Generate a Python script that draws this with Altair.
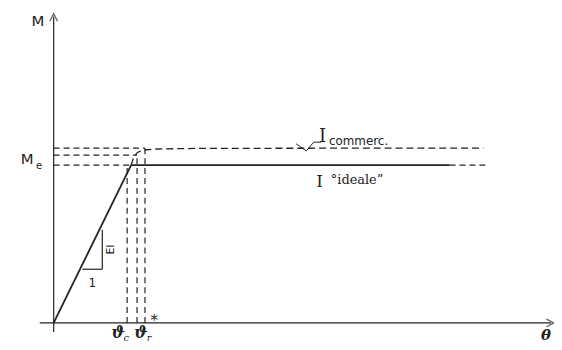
import altair as alt
import pandas as pd

# ---- data (theta in units of theta_c, M in units of Me) ----
theta_y = 1.054      # end of elastic branch
theta_c = 1.0
theta_r = 1.135
theta_rs = 1.243
Me = 1.0
M_mid = 1.063
M_top = 1.107
theta_plast_end = 5.39
theta_tail_end = 5.92

comm_theta = [1.054, 1.09, 1.14, 1.22, 1.4, 2.0, 4.0, 5.85]
comm_M = [1.0, 1.05, 1.08, 1.095, 1.102, 1.106, 1.107, 1.107]

# geometry of the frame
W, H = 550, 336
KX, KY = 74.0, 159.0
OX, OY = 46.0, 316.0
xdom = [-OX / KX, (W - OX) / KX]
ydom = [-(H - OY) / KY, OY / KY]
xs = alt.Scale(domain=xdom, nice=False, zero=False)
ys = alt.Scale(domain=ydom, nice=False, zero=False)
INK = "#222222"

solid = pd.DataFrame([
    # axes
    dict(x=-0.19, y=0, x2=6.77, y2=0, w=1.2),
    dict(x=0, y=-0.057, x2=0, y2=1.94, w=1.2),
    # elastic branch
    dict(x=0, y=0, x2=theta_y, y2=Me, w=1.8),
    # ideal plateau
    dict(x=theta_y, y=Me, x2=theta_plast_end, y2=Me, w=1.8),
    # slope triangle
    dict(x=0.392, y=0.34, x2=0.662, y2=0.34, w=1.2),
    dict(x=0.662, y=0.34, x2=0.662, y2=0.591, w=1.2),
])

dashed = pd.DataFrame([
    dict(x=0, y=Me, x2=theta_y, y2=Me),
    dict(x=0, y=M_mid, x2=theta_r, y2=M_mid),
    dict(x=0, y=M_top, x2=theta_rs, y2=M_top),
    dict(x=theta_c, y=0, x2=theta_c, y2=Me),
    dict(x=theta_r, y=0, x2=theta_r, y2=M_mid),
    dict(x=theta_rs, y=0, x2=theta_rs, y2=M_top),
    dict(x=theta_plast_end, y=Me, x2=theta_tail_end, y2=Me),
])

comm = pd.DataFrame({"x": comm_theta, "y": comm_M, "o": list(range(len(comm_theta)))})

pointer = pd.DataFrame({"x": [3.30, 3.44, 3.54, 3.64], "y": [1.135, 1.09, 1.145, 1.145],
                        "o": [0, 1, 2, 3]})

arrows = pd.DataFrame([
    dict(x=0, y=1.94, s="M-1,1.2L0,-0.8L1,1.2"),
    dict(x=6.77, y=0, s="M-1.2,-1L0.8,0L-1.2,1"),
])

sans_txt = pd.DataFrame([
    dict(x=-0.216, y=1.91, t="M", sz=15),
    dict(x=-0.36, y=1.04, t="M", sz=15),
    dict(x=-0.20, y=0.995, t="e", sz=10),
    dict(x=4.15, y=1.155, t="commerc.", sz=12),
    dict(x=0.527, y=0.25, t="1", sz=12),
])

serif_txt = pd.DataFrame([
    dict(x=3.66, y=1.175, t="I", sz=18),
    dict(x=3.62, y=0.895, t="I", sz=17),
    dict(x=4.13, y=0.905, t="°ideale”", sz=13),
])

greek = pd.DataFrame([
    dict(x=0.88, y=-0.065, t="ϑ", sz=16),
    dict(x=1.19, y=-0.065, t="ϑ", sz=16),
    dict(x=6.70, y=-0.075, t="θ", sz=15),
])
subs = pd.DataFrame([
    dict(x=0.99, y=-0.095, t="c", sz=10),
    dict(x=1.30, y=-0.095, t="r", sz=10),
    dict(x=1.37, y=0.02, t="*", sz=15),
])

ei = pd.DataFrame([dict(x=0.78, y=0.465, t="EI")])

l_solid = alt.Chart(solid).mark_rule(color=INK).encode(
    x=alt.X("x:Q", scale=xs, axis=None), y=alt.Y("y:Q", scale=ys, axis=None),
    x2="x2:Q", y2="y2:Q", strokeWidth=alt.StrokeWidth("w:Q", scale=None))

l_dash = alt.Chart(dashed).mark_rule(color=INK, strokeWidth=1.2, strokeDash=[6, 4]).encode(
    x=alt.X("x:Q", scale=xs, axis=None), y=alt.Y("y:Q", scale=ys, axis=None),
    x2="x2:Q", y2="y2:Q")

l_comm = alt.Chart(comm).mark_line(color=INK, strokeWidth=1.3, strokeDash=[7, 4]).encode(
    x=alt.X("x:Q", scale=xs, axis=None), y=alt.Y("y:Q", scale=ys, axis=None), order="o:O")

l_ptr = alt.Chart(pointer).mark_line(color=INK, strokeWidth=1.0).encode(
    x=alt.X("x:Q", scale=xs, axis=None), y=alt.Y("y:Q", scale=ys, axis=None), order="o:O")

l_arrow = alt.Chart(arrows).mark_point(filled=False, color=INK, strokeWidth=1.3, size=60).encode(
    x=alt.X("x:Q", scale=xs, axis=None), y=alt.Y("y:Q", scale=ys, axis=None),
    shape=alt.Shape("s:N", scale=None))

def txt(df, font, style="normal", weight="normal", angle=0):
    return alt.Chart(df).mark_text(font=font, fontStyle=style, fontWeight=weight,
                                   color=INK, angle=angle, align="center", baseline="middle").encode(
        x=alt.X("x:Q", scale=xs, axis=None), y=alt.Y("y:Q", scale=ys, axis=None),
        text="t:N", size=alt.Size("sz:Q", scale=None))

l_sans = txt(sans_txt, "DejaVu Sans")
l_serif = txt(serif_txt, "DejaVu Serif")
l_greek = txt(greek, "DejaVu Serif", style="italic", weight="bold")
l_subs = txt(subs, "DejaVu Serif", style="italic")
l_ei = alt.Chart(ei).mark_text(font="DejaVu Sans", fontSize=11, color=INK, angle=270,
                               align="center", baseline="middle").encode(
    x=alt.X("x:Q", scale=xs, axis=None), y=alt.Y("y:Q", scale=ys, axis=None), text="t:N")

chart = alt.layer(l_dash, l_comm, l_solid, l_ptr, l_arrow, l_sans, l_serif, l_greek, l_subs, l_ei).properties(
    width=W, height=H, padding=0, autosize=alt.AutoSizeParams(type="none"), background="white"
).configure_view(stroke=None)

chart.save("out.html", embed_options={"renderer": "svg", "actions": False})
